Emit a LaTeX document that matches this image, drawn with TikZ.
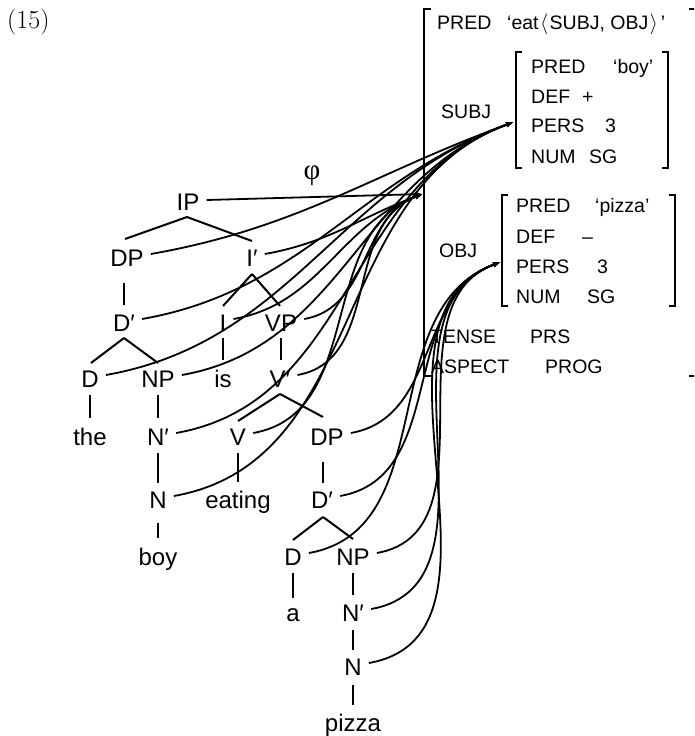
\documentclass[tikz,border=0pt]{standalone}
\usepackage{fontspec}
\newfontfamily\sansfam{Liberation Sans}
\newfontfamily\seriffam{Liberation Serif}
\usetikzlibrary{calc,arrows.meta}
\newcommand\mytrfont{\sansfam\fontsize{24}{28}\selectfont}
\newcommand\myfsfont{\sansfam\fontsize{19.5}{23}\selectfont}
\begin{document}
\begin{tikzpicture}[x=1pt,y=1pt,
  tr/.style={font=\mytrfont, inner sep=0pt, text height=17pt, text depth=0pt},
  fs/.style={font=\myfsfont, inner sep=0pt, anchor=base west},
  br/.style={line width=2pt},
  bk/.style={line width=1.3pt},
  fc/.style={line width=1.8pt, -{Latex[length=8pt,width=5.5pt]}}]
\useasboundingbox (0,0) rectangle (694,-736);
\clip (0,0) rectangle (694,-736);
% label and phi
\node[font=\fontsize{26}{30}\selectfont, inner sep=0pt, anchor=base west] (num) at (7,-28) {(15)};
\node[font=\seriffam\fontsize{29}{33}\selectfont, inner sep=0pt, anchor=base] (phi) at (312,-179) {φ};
% tree nodes
\node[tr] (IP) at (188,-202) {IP};
\node[tr] (DPs) at (127,-258) {DP};
\node[tr] (Ib) at (252,-258) {I′};
\node[tr] (Dbs) at (124,-323) {D′};
\node[tr] (I) at (223,-323) {I};
\node[tr] (VP) at (281,-323) {VP};
\node[tr] (Ds) at (90,-379) {D};
\node[tr] (NPs) at (158,-379) {NP};
\node[tr] (is) at (223,-379) {is};
\node[tr] (Vb) at (280,-379) {V′};
\node[tr] (the) at (90,-437) {the};
\node[tr] (Nbs) at (158,-437) {N′};
\node[tr] (V) at (238,-437) {V};
\node[tr] (DPo) at (327,-437) {DP};
\node[tr] (Ns) at (158,-500) {N};
\node[tr] (eating) at (238,-500) {eating};
\node[tr] (Dbo) at (322,-500) {D′};
\node[tr] (boy) at (158,-557) {boy};
\node[tr] (Do) at (293,-557) {D};
\node[tr] (NPo) at (353,-557) {NP};
\node[tr] (a) at (293,-613) {a};
\node[tr] (Nbo) at (353,-613) {N′};
\node[tr] (No) at (353,-667) {N};
\node[tr] (pizza) at (353,-723) {pizza};
% tree lines
\draw[br] ($(IP)+(-1,-15)$) -- ($(DPs)+(-2,19)$);
\draw[br] ($(IP)+(-1,-15)$) -- ($(Ib)+(0,17)$);
\draw[br] ($(DPs)+(-3,-25)$) -- ($(Dbs)+(0,18)$);
\draw[br] ($(Dbs)+(0,-15)$) -- ($(Ds)+(1,16)$);
\draw[br] ($(Dbs)+(0,-15)$) -- ($(NPs)+(0,16)$);
\draw[br] ($(Ds)+(0,-16)$) -- ($(the)+(0,19)$);
\draw[br] ($(NPs)+(0,-16)$) -- ($(Nbs)+(0,19)$);
\draw[br] ($(Nbs)+(0,-16)$) -- ($(Ns)+(0,17)$);
\draw[br] ($(Ns)+(0,-23)$) -- ($(boy)+(0,19)$);
\draw[br] ($(Ib)+(0,-16)$) -- ($(I)+(0,17)$);
\draw[br] ($(Ib)+(0,-16)$) -- ($(VP)+(-1,17)$);
\draw[br] ($(I)+(0,-15)$) -- ($(is)+(0,19)$);
\draw[br] ($(VP)+(0,-15)$) -- ($(Vb)+(1,19)$);
\draw[br] ($(Vb)+(0,-15)$) -- ($(V)+(0,16)$);
\draw[br] ($(Vb)+(0,-15)$) -- ($(DPo)+(-4,20)$);
\draw[br] ($(V)+(0,-16)$) -- ($(eating)+(0,18)$);
\draw[br] ($(DPo)+(-4,-25)$) -- ($(Dbo)+(1,17)$);
\draw[br] ($(Dbo)+(1,-17)$) -- ($(Do)+(0,17)$);
\draw[br] ($(Dbo)+(1,-17)$) -- ($(NPo)+(0,18)$);
\draw[br] ($(Do)+(0,-16)$) -- ($(a)+(0,15)$);
\draw[br] ($(NPo)+(0,-16)$) -- ($(Nbo)+(0,18)$);
\draw[br] ($(Nbo)+(0,-17)$) -- ($(No)+(0,17)$);
\draw[br] ($(No)+(0,-18)$) -- ($(pizza)+(0,18)$);
% f-structure brackets
\draw[bk] (431,-9) -- (424,-9) -- (424,-376) -- (432,-376);
\draw[bk] (689,-9) -- (697,-9) -- (697,-376) -- (689,-376);
\draw[bk] (522,-52) -- (516,-52) -- (516,-168) -- (522,-168);
\draw[bk] (662,-52) -- (668,-52) -- (668,-168) -- (662,-168);
\draw[bk] (508,-195) -- (502,-195) -- (502,-306) -- (508,-306);
\draw[bk] (669,-195) -- (675,-195) -- (675,-306) -- (669,-306);
% f-structure texts
\node[fs] (pred) at (437,-29) {PRED};
\node[fs] (predv) at (507,-29) {‘eat\hspace{1.5pt}$\langle$\hspace{1.5pt}SUBJ, OBJ\hspace{1.5pt}$\rangle$\hspace{3pt}’};
\node[fs] (subj) at (441,-118) {SUBJ};
\node[fs] (spred) at (531,-73) {PRED};
\node[fs] (spredv) at (613,-73) {‘boy’};
\node[fs] (sdef) at (531,-103) {DEF};
\node[fs] (sdefv) at (582,-103) {+};
\node[fs] (spers) at (531,-132) {PERS};
\node[fs] (spersv) at (605,-132) {3};
\node[fs] (snum) at (531,-163) {NUM};
\node[fs] (snumv) at (589,-163) {SG};
\node[fs] (obj) at (439,-257) {OBJ};
\node[fs] (opred) at (516,-212) {PRED};
\node[fs] (opredv) at (595,-212) {‘pizza’};
\node[fs] (odef) at (516,-243) {DEF};
\node[fs] (odefv) at (582,-243) {–};
\node[fs] (opers) at (516,-273) {PERS};
\node[fs] (opersv) at (597,-273) {3};
\node[fs] (onum) at (516,-303) {NUM};
\node[fs] (onumv) at (587,-303) {SG};
\node[fs] (tense) at (431,-343) {TENSE};
\node[fs] (tensev) at (530,-343) {PRS};
\node[fs] (asp) at (431,-373) {ASPECT};
\node[fs] (aspv) at (545,-373) {PROG};
% arrow tips
\coordinate (ftip) at (423,-194);
\coordinate (stip) at (514,-122);
\coordinate (otip) at (501,-262);
% mapping curves
\draw[fc] ($(IP.east)+(7,2)$) -- (ftip);
\foreach \n in {Ib,I,VP,Vb,V}
  \draw[fc] ($(\n.east)+(7,4)$) to[out=10,in=200] (ftip);
\foreach \n in {DPs,Dbs,Ds,NPs,Nbs,Ns}
  \draw[fc] ($(\n.east)+(7,4)$) to[out=10,in=200] (stip);
\foreach \n in {DPo,Dbo,Do,NPo,Nbo,No}
  \draw[fc] ($(\n.east)+(7,4)$) to[out=10,in=200] (otip);
\end{tikzpicture}
\end{document}
